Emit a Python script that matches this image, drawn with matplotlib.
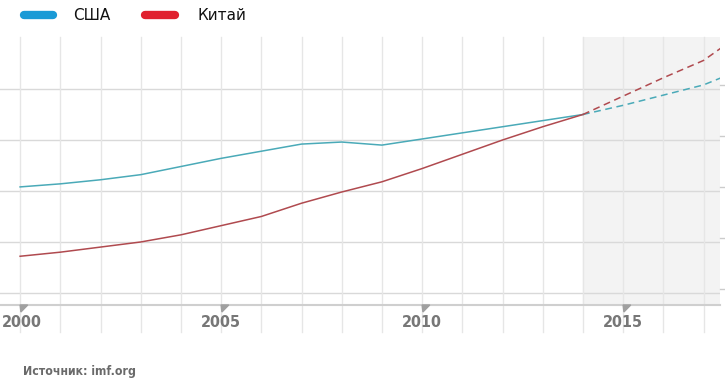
import matplotlib.pyplot as plt
from matplotlib.patches import Polygon
from matplotlib.transforms import blended_transform_factory

# GDP (PPP), trillions of dollars
years = [2000, 2001, 2002, 2003, 2004, 2005, 2006, 2007, 2008, 2009,
         2010, 2011, 2012, 2013, 2014]
usa = [10.4, 10.7, 11.1, 11.6, 12.4, 13.2, 13.9, 14.6, 14.8, 14.5,
       15.1, 15.7, 16.3, 16.9, 17.5]
china = [3.6, 4.0, 4.5, 5.0, 5.7, 6.6, 7.5, 8.8, 9.9, 10.9,
         12.2, 13.6, 15.0, 16.3, 17.5]

fc_years = [2014, 2015, 2016, 2017, 2018]
usa_fc = [17.5, 18.4, 19.4, 20.4, 22.0]
china_fc = [17.5, 19.3, 21.1, 22.8, 25.6]

tick_years = [2000, 2005, 2010, 2015]
names = ['США', 'Китай']
source = 'Источник: imf.org'

W, H = 725, 387
fig = plt.figure(figsize=(W / 100, H / 100), dpi=100)
ax = fig.add_axes([0, 1 - 305 / H, 720 / W, (305 - 37) / H])
x0, x1 = 1999.5, 2017.41
ax.set_xlim(x0, x1)
ax.set_ylim(-1.18, 25.1)
for s in ax.spines.values():
    s.set_visible(False)
ax.set_xticks([])
ax.set_yticks([])

# forecast area
ax.axvspan(2014, x1, color='#f3f3f3', zorder=0)

# grid
for y in [0, 5, 10, 15, 20]:
    ax.axhline(y, color='#d9d9d9', lw=1, zorder=1)
btrans = blended_transform_factory(ax.transData, ax.transAxes)
for yr in range(2000, 2018):
    ax.plot([yr, yr], [-0.1, 1.0], transform=btrans, color='#e6e6e6',
            lw=1, zorder=1, clip_on=False)

# bottom axis line with markers
ax.plot([0, 1], [0, 0], transform=ax.transAxes, color='#cfcfcf', lw=1.5,
        zorder=2, clip_on=False)
for yr in tick_years:
    tri = Polygon([[yr, 0], [yr + 0.19, 0], [yr + 0.02, -0.026]], closed=True,
                  transform=btrans, color='#a0a0a0', clip_on=False, zorder=3)
    ax.add_patch(tri)
    xl = yr + 0.05 if yr == tick_years[0] else yr
    ax.text(xl, -0.065, str(yr), transform=btrans, ha='center', va='center',
            fontsize=11.5, fontweight='bold', color='#777777',
            family='DejaVu Sans', fontstretch='condensed')

# short ticks on the right edge
rtrans = blended_transform_factory(ax.transAxes, ax.transData)
for y in [0.4, 5.4, 10.4, 15.4, 20.4]:
    ax.plot([1.0, 1.007], [y, y], transform=rtrans, color='#cccccc', lw=1,
            clip_on=False)

# lines
ax.plot(years, usa, color='#4aaab8', lw=1.1, zorder=4)
ax.plot(years, china, color='#b04a4f', lw=1.1, zorder=4)
ax.plot(fc_years, usa_fc, color='#4aaab8', lw=1.1, ls=(0, (4.5, 3)), zorder=4)
ax.plot(fc_years, china_fc, color='#b04a4f', lw=1.1, ls=(0, (4.5, 3)), zorder=4)

# legend
fig.lines.append(plt.Line2D([24 / W, 53 / W], [1 - 15 / H] * 2, transform=fig.transFigure,
                            color='#1a9ad6', lw=6, solid_capstyle='round'))
fig.text(73 / W, 1 - 16 / H, names[0], fontsize=11, va='center', color='#111111')
fig.lines.append(plt.Line2D([145 / W, 175 / W], [1 - 15 / H] * 2, transform=fig.transFigure,
                            color='#e0202e', lw=6, solid_capstyle='round'))
fig.text(197 / W, 1 - 16 / H, names[1], fontsize=11, va='center', color='#111111')

# source
fig.text(23 / W, 1 - 372 / H, source, fontsize=8.8, fontweight='bold',
         color='#6a6a6a', va='center', family='DejaVu Sans', fontstretch='condensed')

fig.savefig('out.png', dpi=100)
